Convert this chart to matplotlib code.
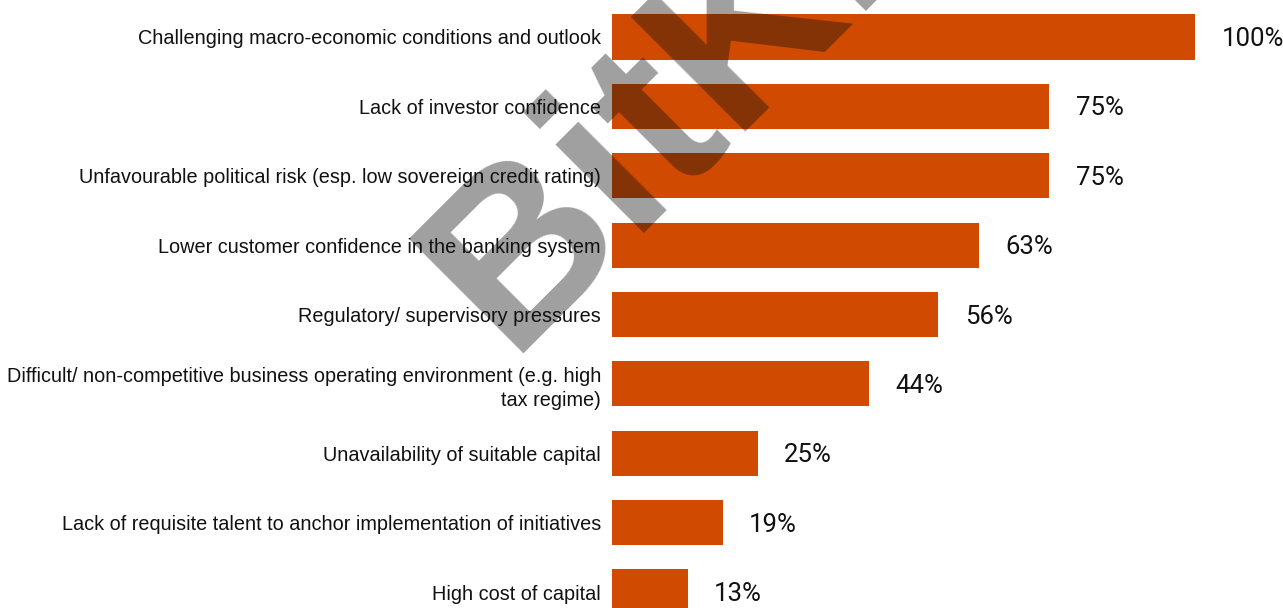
import matplotlib
matplotlib.use("Agg")
import matplotlib.pyplot as plt

# survey responses, top to bottom
categories = [
    "Challenging macro-economic conditions and outlook",
    "Lack of investor confidence",
    "Unfavourable political risk (esp. low sovereign credit rating)",
    "Lower customer confidence in the banking system",
    "Regulatory/ supervisory pressures",
    "Difficult/ non-competitive business operating environment (e.g. high\ntax regime)",
    "Unavailability of suitable capital",
    "Lack of requisite talent to anchor implementation of initiatives",
    "High cost of capital",
]
values = [100, 75, 75, 63, 56, 44, 25, 19, 13]

BAR_COLOR = "#d04a02"

fig = plt.figure(figsize=(12.83, 6.08), dpi=100)
ax = fig.add_axes([612 / 1283, 0, 583 / 1283, 1])

pos = list(range(len(categories)))
ax.barh(pos, values, height=0.65, color=BAR_COLOR)
ax.set_xlim(0, 100)
ax.set_ylim(8.23, -0.533)

for y, v in zip(pos, values):
    ax.annotate(f"{v}%", xy=(v, y), xytext=(19, -1.5), textcoords="offset points",
                ha="left", va="center", fontsize=18.5, family="Roboto",
                color="#111111")

ax.set_yticks(pos)
ax.set_yticklabels(categories, family="Liberation Sans", fontsize=14.3,
                   color="#111111", linespacing=1.35)
ax.tick_params(axis="y", length=0, pad=8)
ax.set_xticks([])
for s in ax.spines.values():
    s.set_visible(False)

# watermark
fig.text(508 / 1283, 1 - 354 / 608, "BitKE", rotation=45, rotation_mode="anchor",
         ha="left", va="baseline", fontsize=170, fontweight="bold",
         family="Liberation Sans", color="#111111", alpha=0.4)

fig.savefig("out.png", dpi=100)
